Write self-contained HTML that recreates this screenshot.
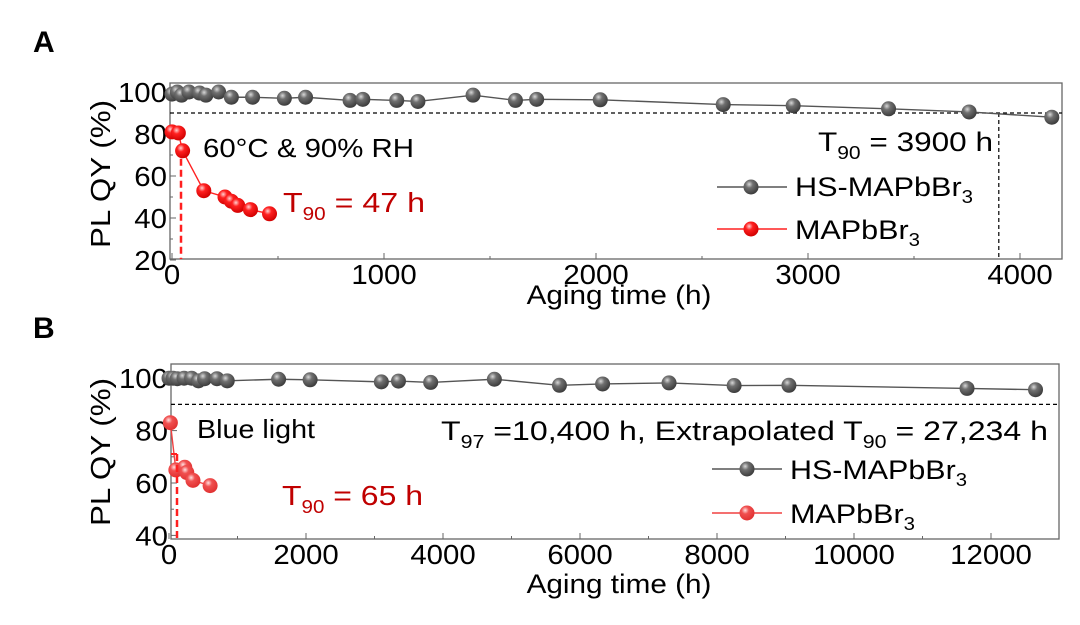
<!DOCTYPE html>
<html><head><meta charset="utf-8"><style>
html,body{margin:0;padding:0;background:#fff}
svg{display:block;font-family:"Liberation Sans",Arial,sans-serif}
</style></head><body>
<svg id="s" width="1080" height="625" viewBox="0 0 1080 625" xmlns="http://www.w3.org/2000/svg">
<defs>
<radialGradient id="gg" cx="0.38" cy="0.32" r="0.7"><stop offset="0" stop-color="#d8d8d8"/><stop offset="0.35" stop-color="#707070"/><stop offset="1" stop-color="#3a3a3a"/></radialGradient>
<radialGradient id="rg" cx="0.38" cy="0.32" r="0.7"><stop offset="0" stop-color="#ffd0d0"/><stop offset="0.35" stop-color="#ff2020"/><stop offset="1" stop-color="#d00000"/></radialGradient>
<radialGradient id="rg2" cx="0.38" cy="0.32" r="0.7"><stop offset="0" stop-color="#ffe0e0"/><stop offset="0.35" stop-color="#f05050"/><stop offset="1" stop-color="#e03030"/></radialGradient>
</defs>
<text x="33" y="52" font-size="30" font-weight="bold">A</text>
<text x="33" y="338" font-size="30" font-weight="bold">B</text>
<g id="g"></g>
</svg>
<script>
var g=document.getElementById('g'),h='';
function TT(x,y,s,size,anchor,fill,sx){
 return '<text transform="translate('+x+','+y+') scale('+sx+',1)" font-size="'+size+'" text-anchor="'+anchor+'" fill="'+(fill||'#000')+'">'+s+'</text>';
}
function TL(x,y,s,size,len,fill){
 return '<text x="'+x+'" y="'+y+'" font-size="'+size+'" fill="'+(fill||'#000')+'" textLength="'+len+'" lengthAdjust="spacingAndGlyphs">'+s+'</text>';
}
function ax(L,R,T,B,x0,sx,y0v,y0,sy,xt,yt,yminor,xminor){
 var X=function(v){return x0+v*sx},Y=function(v){return y0-(v-y0v)*sy};
 h+='<rect x="'+L+'" y="'+T+'" width="'+(R-L)+'" height="'+(B-T)+'" fill="none" stroke="#666" stroke-width="1.3"/>';
 xt.forEach(function(v){h+='<line x1="'+X(v)+'" x2="'+X(v)+'" y1="'+B+'" y2="'+(B-6)+'" stroke="#666"/>';h+=TT(X(v),B+25,v,28,'middle','#000',1.05);});
 xminor.forEach(function(v){h+='<line x1="'+X(v)+'" x2="'+X(v)+'" y1="'+B+'" y2="'+(B-3)+'" stroke="#666"/>';});
 yt.forEach(function(v){h+='<line x1="'+L+'" x2="'+(L+6)+'" y1="'+Y(v)+'" y2="'+Y(v)+'" stroke="#666"/>';h+=TT(L-3,Y(v)+10,v,28,'end','#000',1.05);});
 yminor.forEach(function(v){h+='<line x1="'+L+'" x2="'+(L+3)+'" y1="'+Y(v)+'" y2="'+Y(v)+'" stroke="#666"/>';});
 return [X,Y];
}
function ser(f,d,col,grad,r){
 var X=f[0],Y=f[1];
 h+='<polyline fill="none" stroke="'+col+'" stroke-width="1.4" points="'+d.map(function(p){return X(p[0])+','+Y(p[1])}).join(' ')+'"/>';
 d.forEach(function(p){h+='<circle cx="'+X(p[0])+'" cy="'+Y(p[1])+'" r="'+r+'" fill="url(#'+grad+')"/>';});
}
var S17='font-size="18"';
// Panel A
var A=ax(170,1062,83,259,172,0.212,60,176,2.1,[0,1000,2000,3000,4000],[20,40,60,80,100],[30,50,70,90],[500,1500,2500,3500]);
h+='<line x1="170" x2="1062" y1="'+A[1](90)+'" y2="'+A[1](90)+'" stroke="#000" stroke-width="1.2" stroke-dasharray="4,3"/>';
h+='<line x1="'+A[0](3900)+'" x2="'+A[0](3900)+'" y1="'+A[1](90)+'" y2="259" stroke="#000" stroke-width="1.2" stroke-dasharray="4,3"/>';
ser(A,[[0,99],[25,100],[45,98.5],[80,100],[130,99.5],[160,98.5],[220,100],[280,97.5],[380,97.5],[530,97],[630,97.5],[840,96],[900,96.5],[1060,96],[1160,95.5],[1420,98.5],[1620,96],[1720,96.5],[2020,96.3],[2600,94],[2930,93.5],[3380,92],[3760,90.5],[4150,88]],'#555','gg',7.5);
ser(A,[[0,81],[30,80.5],[50,72],[150,53],[250,50],[280,48],[310,46],[370,44],[460,42]],'#ff2020','rg',7.5);
h+='<line x1="181" x2="181" y1="'+(A[1](72)+8)+'" y2="259" stroke="#ff2020" stroke-width="2.5" stroke-dasharray="7,4"/>';
h+=TL(203,157,'60°C &amp; 90% RH',26,211);
h+=TL(283,212,'T<tspan '+S17+' dy="8">90</tspan><tspan dy="-8"> = 47 h</tspan>',28,142,'#c00000');
h+=TL(818,151,'T<tspan '+S17+' dy="8">90</tspan><tspan dy="-8"> = 3900 h</tspan>',27,175);
h+='<line x1="717" x2="787" y1="187" y2="187" stroke="#555" stroke-width="1.4"/><circle cx="751" cy="187" r="7.5" fill="url(#gg)"/>';
h+=TL(795,196,'HS-MAPbBr<tspan '+S17+' dy="7">3</tspan>',27,178);
h+='<line x1="717" x2="787" y1="229" y2="229" stroke="#ff2020" stroke-width="1.4"/><circle cx="751" cy="229" r="7.5" fill="url(#rg)"/>';
h+=TL(795,239,'MAPbBr<tspan '+S17+' dy="7">3</tspan>',27,125);
h+=TT(619,304,'Aging time (h)',27,'middle','#000',1.1);
h+='<text transform="translate(110,174) rotate(-90) scale(1.12,1)" font-size="28" text-anchor="middle">PL QY (%)</text>';
// Panel B
var B=ax(171,1059,364,539,169,0.0685,60,483,2.62,[0,2000,4000,6000,8000,10000,12000],[40,60,80,100],[50,70,90],[1000,3000,5000,7000,9000,11000]);
h+='<line x1="171" x2="1059" y1="'+B[1](90)+'" y2="'+B[1](90)+'" stroke="#000" stroke-width="1.2" stroke-dasharray="4,3"/>';
ser(B,[[0,100],[60,100],[120,99.8],[220,100],[330,100],[430,99],[520,99.8],[700,99.8],[850,99],[1600,99.6],[2060,99.4],[3100,98.6],[3350,98.9],[3820,98.4],[4750,99.6],[5700,97.3],[6330,97.8],[7300,98.2],[8250,97.2],[9050,97.3],[11650,96.1],[12650,95.6]],'#555','gg',7.5);
ser(B,[[20,83],[100,65],[230,66],[260,64],[350,61],[600,59]],'#f04040','rg2',7.5);
h+='<line x1="177" x2="177" y1="454" y2="539" stroke="#ff2020" stroke-width="2.5" stroke-dasharray="7,4"/>';
h+='<line x1="171" x2="177" y1="454" y2="454" stroke="#ff2020" stroke-width="2"/>';
h+=TL(197,438,'Blue light',26,118);
h+=TL(282,505,'T<tspan '+S17+' dy="8">90</tspan><tspan dy="-8"> = 65 h</tspan>',28,141,'#c00000');
h+=TL(441,440,'T<tspan '+S17+' dy="8">97</tspan><tspan dy="-8"> =10,400 h, Extrapolated T</tspan><tspan '+S17+' dy="8">90</tspan><tspan dy="-8"> = 27,234 h</tspan>',27,607);
h+='<line x1="712" x2="782" y1="469" y2="469" stroke="#555" stroke-width="1.4"/><circle cx="747" cy="469" r="7.5" fill="url(#gg)"/>';
h+=TL(790,479,'HS-MAPbBr<tspan '+S17+' dy="7">3</tspan>',27,177);
h+='<line x1="712" x2="782" y1="513" y2="513" stroke="#f04040" stroke-width="1.4"/><circle cx="747" cy="513" r="7.5" fill="url(#rg2)"/>';
h+=TL(790,523,'MAPbBr<tspan '+S17+' dy="7">3</tspan>',27,125);
h+=TT(619,593,'Aging time (h)',27,'middle','#000',1.1);
h+='<text transform="translate(110,452) rotate(-90) scale(1.12,1)" font-size="28" text-anchor="middle">PL QY (%)</text>';
g.innerHTML=h;
</script>
</body></html>
